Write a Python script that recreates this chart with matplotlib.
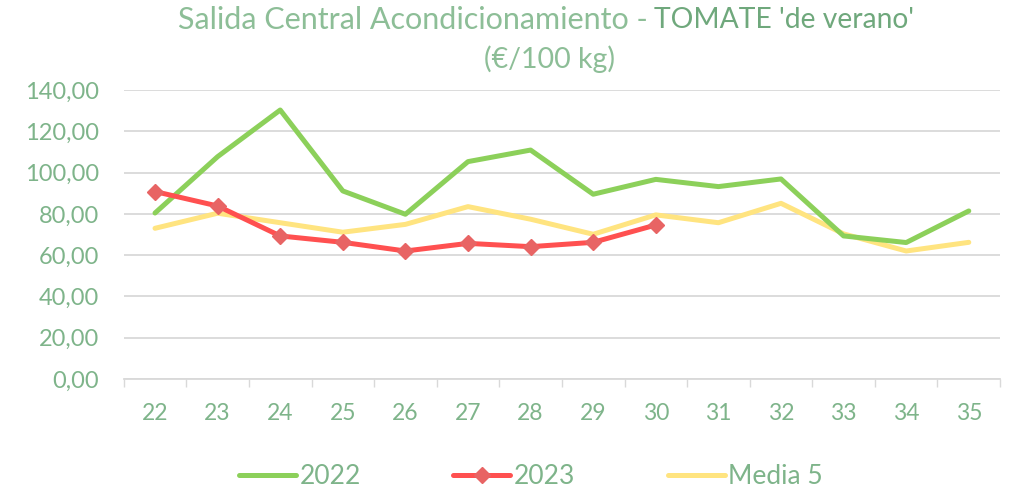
import matplotlib.pyplot as plt
from matplotlib.ticker import FuncFormatter, FixedLocator

semanas = [22, 23, 24, 25, 26, 27, 28, 29, 30, 31, 32, 33, 34, 35]
valores_2022 = [80.4, 107.7, 130.3, 91.1, 79.8, 105.3, 110.9, 89.5, 96.7, 93.2, 96.9, 69.3, 66.1, 81.4]
valores_2023 = [90.8, 83.8, 69.3, 66.2, 62.0, 65.7, 64.1, 66.2, 74.6]
media_5 = [73.0, 80.3, 75.7, 71.1, 74.9, 83.5, 77.4, 70.1, 79.5, 75.7, 85.1, 70.3, 62.0, 66.2]

texto = '#7EB48A'
plt.rcParams['font.family'] = ['Lato', 'DejaVu Sans']

fig = plt.figure(figsize=(10.25, 4.92), dpi=100)
ax = fig.add_axes([0.1207, 0.2297, 0.855, 0.5874])

x = list(range(len(semanas)))
ax.plot(x, valores_2022, color='#8CD05A', lw=3.6, label='2022', solid_capstyle='round', zorder=3)
ax.plot(x[:len(valores_2023)], valores_2023, color='#FF5050', lw=3.6, label='2023',
        marker='D', markersize=8.5, markerfacecolor='#E86464', markeredgecolor='#E86464',
        solid_capstyle='round', zorder=4)
ax.plot(x, media_5, color='#FFE480', lw=3.6, label='Media 5', solid_capstyle='round', zorder=2)

ax.set_xlim(-0.5, len(semanas) - 0.5)
ax.set_ylim(0, 140)
ax.set_yticks(range(0, 141, 20))
ax.yaxis.set_major_formatter(FuncFormatter(lambda v, p: f'{v:.2f}'.replace('.', ',')))
ax.set_xticks(x)
ax.set_xticklabels([str(s) for s in semanas])
ax.xaxis.set_minor_locator(FixedLocator([i - 0.5 for i in range(len(semanas) + 1)]))
ax.tick_params(axis='x', which='major', length=0, pad=17, labelsize=16.5, labelcolor=texto)
ax.tick_params(axis='x', which='minor', length=6, color='#D9D9D9', width=1)
ax.tick_params(axis='y', length=0, pad=18, labelsize=17, labelcolor=texto)
ax.grid(axis='y', color='#D9D9D9', lw=1.3)
ax.set_axisbelow(True)
for s in ['top', 'right', 'left']:
    ax.spines[s].set_visible(False)
ax.spines['bottom'].set_color('#D9D9D9')
ax.spines['bottom'].set_linewidth(1.3)

# título en dos partes
fig.text(648 / 1025, 1 - 20 / 492, 'Salida Central Acondicionamiento -', ha='right', va='center',
         fontsize=22, color='#8DBE97')
fig.text(654 / 1025, 1 - 20 / 492, "TOMATE 'de verano'", ha='left', va='center',
         fontsize=20.3, color='#6FA87C')
fig.text(550 / 1025, 1 - 59 / 492, '(€/100 kg)', ha='center', va='center',
         fontsize=20.5, color='#8DBE97')

leg = fig.legend(loc='center', bbox_to_anchor=(531 / 1025, 1 - 477 / 492), ncol=3, frameon=False,
                 fontsize=19, handlelength=2.15, columnspacing=3.5, handletextpad=0.15)
for t in leg.get_texts():
    t.set_color(texto)

fig.savefig('out.png', dpi=100)
